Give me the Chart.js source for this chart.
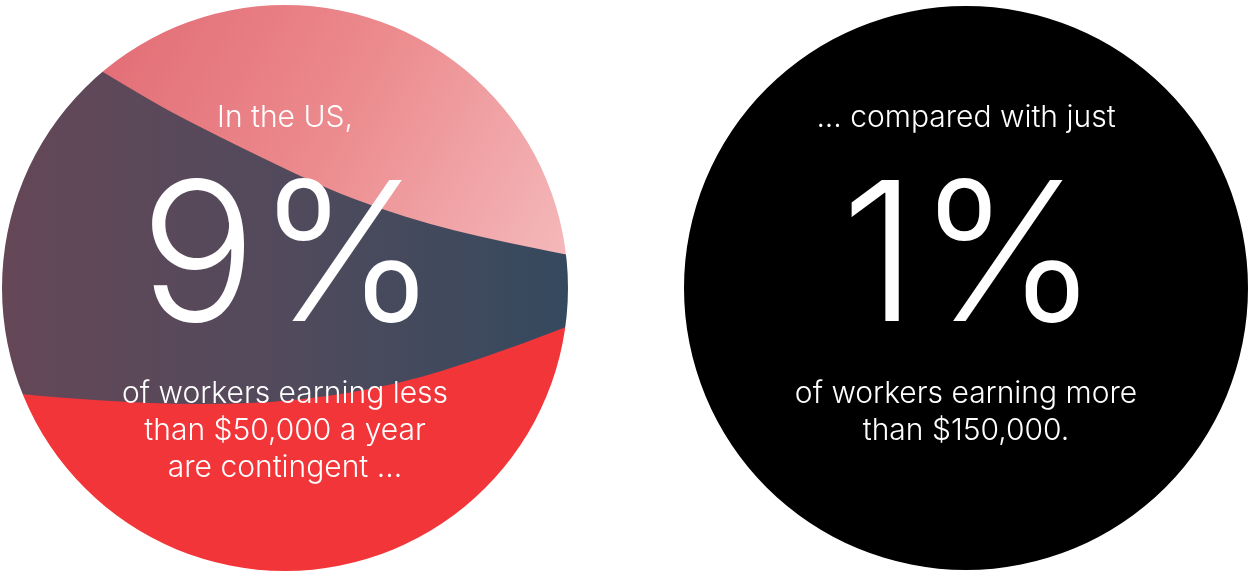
<!DOCTYPE html>
<html>
<head>
<meta charset="utf-8">
<script src="https://cdn.jsdelivr.net/npm/chart.js@4/dist/chart.umd.min.js"></script>
<style>
  html, body { margin: 0; padding: 0; background: #ffffff; overflow: hidden; width: 1248px; height: 574px; }
  .panel { position: absolute; top: 0; }
  #p0 { left: 0px; }
  #p1 { left: 682px; }
</style>
</head>
<body>
<div class="panel" id="p0"><canvas id="c0" width="570" height="574"></canvas></div>
<div class="panel" id="p1"><canvas id="c1" width="568" height="574"></canvas></div>
<script>
// ---- data ----
const groups = ['Earning less than $50,000', 'Earning more than $150,000'];
const contingentShare = [9, 1];           // % of workers who are contingent
const valueSuffix = '%';
const headlines = ['In the US,', '... compared with just'];
const captionsLeft = ['of workers earning less', 'than $50,000 a year', 'are contingent ...'];
const captionsRight = ['of workers earning more', 'than $150,000.'];
const captions = [captionsLeft, captionsRight];

// ---- styles ----
const FONT = 'Inter, "Open Sans", sans-serif';
const RED = '#f23539';
const BLACK = '#000000';
// decorative band edges for the left disc (fractions of radius from centre)
const BAND_TOP = [[-0.80,-0.86],[-0.724,-0.813],[-0.643,-0.763],[-0.502,-0.678],[-0.371,-0.604],[-0.088,-0.463],
  [0.159,-0.347],[0.336,-0.280],[0.512,-0.225],[0.689,-0.181],[0.866,-0.144],[0.996,-0.118],[1.15,-0.087]];
const BAND_BOTTOM = [[-1.15,0.355],[-1.042,0.360],[-0.936,0.375],[-0.654,0.399],[-0.300,0.413],[0.053,0.399],
  [0.406,0.339],[0.700,0.247],[0.989,0.141],[1.15,0.075]];

function smooth(ctx, pts, cx, cy, r) {
  const P = pts.map(p => [cx + p[0] * r, cy + p[1] * r]);
  ctx.lineTo(P[0][0], P[0][1]);
  for (let i = 1; i < P.length - 1; i++) {
    const mx = (P[i][0] + P[i + 1][0]) / 2, my = (P[i][1] + P[i + 1][1]) / 2;
    ctx.quadraticCurveTo(P[i][0], P[i][1], mx, my);
  }
  ctx.lineTo(P[P.length - 1][0], P[P.length - 1][1]);
  return P;
}

let bandPattern = null;
function bandFill(context) {
  const ch = context.chart;
  const a = ch.chartArea;
  if (!a) return RED;
  if (bandPattern) return bandPattern;
  const off = document.createElement('canvas');
  off.width = ch.width; off.height = ch.height;
  const g = off.getContext('2d');
  const cx = (a.left + a.right) / 2, cy = (a.top + a.bottom) / 2;
  const r = Math.min(a.right - a.left, a.bottom - a.top) / 2;
  // base: red
  g.fillStyle = RED;
  g.fillRect(0, 0, off.width, off.height);
  // dark band (everything above lower edge)
  const dark = g.createLinearGradient(cx - r, 0, cx + r, 0);
  dark.addColorStop(0, '#654757');
  dark.addColorStop(0.5, '#514a5c');
  dark.addColorStop(1, '#35495e');
  g.beginPath();
  g.moveTo(cx - 1.3 * r, cy - 1.3 * r);
  smooth(g, BAND_BOTTOM, cx, cy, r);
  g.lineTo(cx + 1.3 * r, cy - 1.3 * r);
  g.closePath();
  g.fillStyle = dark;
  g.fill();
  // pink top
  const pink = g.createLinearGradient(cx - 0.65 * r, cy - 0.95 * r, cx + 0.95 * r, cy - 0.05 * r);
  pink.addColorStop(0, '#e26c75');
  pink.addColorStop(0.5, '#ec8b8e');
  pink.addColorStop(1, '#f4b8ba');
  g.beginPath();
  g.moveTo(cx - 0.80 * r, cy - 1.3 * r);
  smooth(g, BAND_TOP, cx, cy, r);
  g.lineTo(cx + 1.3 * r, cy - 1.3 * r);
  g.closePath();
  g.fillStyle = pink;
  g.fill();
  bandPattern = g.createPattern(off, 'no-repeat');
  return bandPattern;
}

const textPlugin = {
  id: 'discText',
  afterDatasetsDraw(chart, args, opts) {
    const arc = chart.getDatasetMeta(0).data[0];
    if (!arc) return;
    const ctx = chart.ctx;
    const cx = arc.x, cy = arc.y;
    ctx.save();
    ctx.fillStyle = '#ffffff';
    ctx.textAlign = 'center';
    ctx.textBaseline = 'middle';
    ctx.font = '300 30px ' + FONT;
    ctx.fillText(opts.headline, cx, cy - 170);
    ctx.font = '300 194px ' + FONT;
    ctx.textBaseline = 'alphabetic';
    ctx.fillText(opts.value, cx + 4, cy + 33);
    ctx.textBaseline = 'middle';
    ctx.font = '300 30px ' + FONT;
    opts.captions.forEach((line, i) => ctx.fillText(line, cx, cy + 106 + i * 37));
    ctx.restore();
  }
};

function makeChart(id, i, color, pad) {
  return new Chart(document.getElementById(id), {
    type: 'pie',
    data: {
      labels: [groups[i]],
      datasets: [{ data: [contingentShare[i]], backgroundColor: color, borderWidth: 0, hoverOffset: 0 }]
    },
    options: {
      responsive: false,
      animation: false,
      events: [],
      layout: { padding: pad },
      plugins: {
        legend: { display: false },
        tooltip: { enabled: false },
        discText: {
          headline: headlines[i],
          value: contingentShare[i] + valueSuffix,
          captions: captions[i]
        }
      }
    },
    plugins: [textPlugin]
  });
}

makeChart('c0', 0, bandFill, { top: 5, bottom: 3, left: 2, right: 2 });
makeChart('c1', 1, BLACK, { top: 6, bottom: 4, left: 2, right: 2 });
</script>
</body>
</html>
